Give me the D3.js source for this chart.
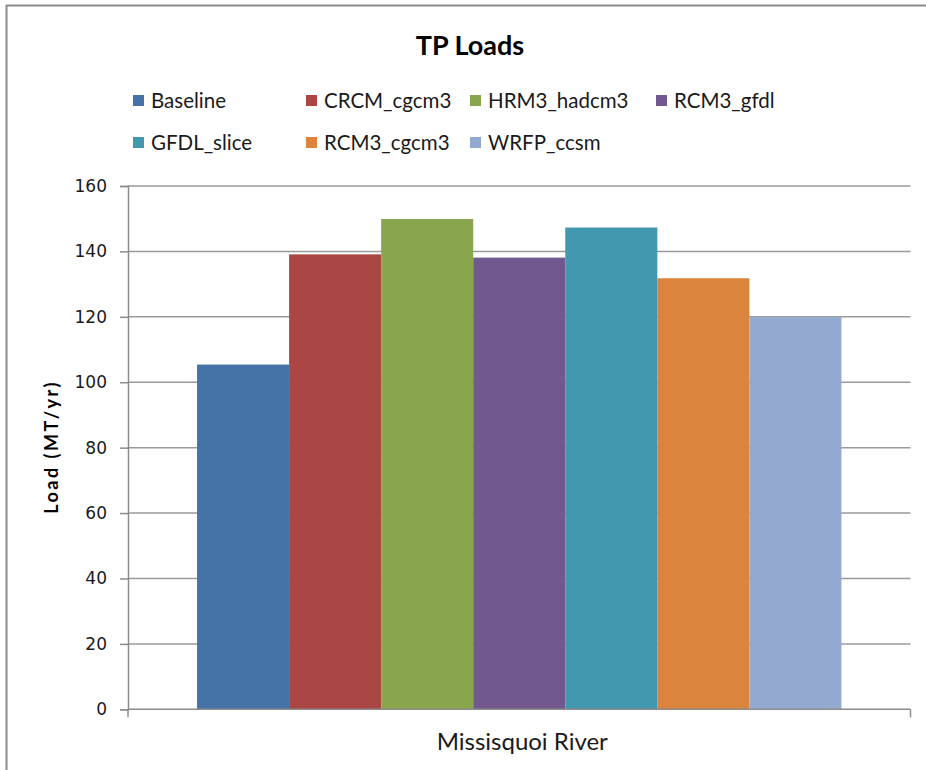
<!DOCTYPE html>
<html><head><meta charset="utf-8">
<script src="https://cdn.jsdelivr.net/npm/d3@7/dist/d3.min.js"></script>
<style>body{margin:0;background:#fff;} svg{display:block;}</style>
</head><body>
<script>
const categories = ["Missisquoi River"];
const seriesNames = ["Baseline","CRCM_cgcm3","HRM3_hadcm3","RCM3_gfdl","GFDL_slice","RCM3_cgcm3","WRFP_ccsm"];
const seriesValues = [105.4, 139.1, 149.9, 138.1, 147.3, 131.8, 119.9];
const seriesColors = ["#4572A7","#AA4643","#89A54E","#71588F","#4198AF","#DB843D","#93A9CF"];
const yTicks = [0,20,40,60,80,100,120,140,160];
const titleText = "TP Loads";
const yLabel = "Load (MT/yr)";

const W = 926, H = 770;
const svg = d3.select("body").append("svg").attr("width", W).attr("height", H);
svg.append("rect").attr("width", W).attr("height", H).attr("fill", "#fff");
// border (top and left visible)
svg.append("line").attr("x1",6.5).attr("x2",6.5).attr("y1",5).attr("y2",H).attr("stroke","#8c8c8c").attr("stroke-width",2);
svg.append("line").attr("x1",6).attr("x2",W).attr("y1",5.5).attr("y2",5.5).attr("stroke","#8c8c8c").attr("stroke-width",2);

const plot = {left:128, right:910.5, top:186, bottom:709.3};
const y = d3.scaleLinear().domain([0,160]).range([plot.bottom, plot.top]);
const x0 = d3.scaleBand().domain(categories).range([plot.left, plot.right]).paddingInner(0).paddingOuter(0);
// gap width 150% -> bars occupy 7/(7+1.5) of band
const groupW = x0.bandwidth() * 7 / 8.5;
const x1 = d3.scaleBand().domain(seriesNames).range([0, groupW]).padding(0);

// gridlines
svg.append("g").selectAll("line").data(yTicks.filter(d=>d>0)).join("line")
  .attr("x1", plot.left).attr("x2", plot.right)
  .attr("y1", d=>y(d)).attr("y2", d=>y(d))
  .attr("stroke","#9a9a9a").attr("stroke-width",1.5);

// bars
const grp = svg.append("g").selectAll("g").data(categories).join("g")
  .attr("transform", d=>`translate(${x0(d) + (x0.bandwidth()-groupW)/2},0)`);
grp.selectAll("rect").data(seriesNames.map((n,i)=>({n, v:seriesValues[i], c:seriesColors[i]}))).join("rect")
  .attr("x", d=>x1(d.n)).attr("width", x1.bandwidth())
  .attr("y", d=>y(d.v)).attr("height", d=>y(0)-y(d.v))
  .attr("fill", d=>d.c);

// y axis
const yAxis = d3.axisLeft(y).tickValues(yTicks).tickSize(8).tickPadding(6);
const ya = svg.append("g").attr("transform",`translate(${plot.left},0)`).call(yAxis);
ya.select(".domain").attr("stroke","#8c8c8c").attr("stroke-width",1.5);
ya.selectAll(".tick line").attr("stroke","#8c8c8c").attr("stroke-width",1.5);
ya.selectAll(".tick text").attr("font-family","DejaVu Sans").attr("font-size",17).attr("fill","#1a1a1a").attr("dx",-7);

// x axis
const xAxis = d3.axisBottom(x0).tickSize(0).tickFormat("");
const xa = svg.append("g").attr("transform",`translate(0,${plot.bottom})`).call(xAxis);
xa.select(".domain").remove();
xa.append("line").attr("x1",plot.left).attr("x2",plot.right).attr("stroke","#8c8c8c").attr("stroke-width",1.5);
[plot.left, plot.right].forEach(px=>xa.append("line").attr("x1",px).attr("x2",px).attr("y1",0).attr("y2",8).attr("stroke","#8c8c8c").attr("stroke-width",1.5));
xa.selectAll(".cat").data(categories).join("text").attr("class","cat")
  .attr("x", d=>x0(d)+x0.bandwidth()/2 + 3).attr("y", 41)
  .attr("text-anchor","middle").attr("font-family","Lato").attr("font-size",24).attr("fill","#1a1a1a").text(d=>d);

// title
svg.append("text").attr("x",470).attr("y",55).attr("text-anchor","middle")
  .attr("font-family","Lato").attr("font-weight","bold").attr("font-size",27).attr("fill","#000").text(titleText);

// y label
svg.append("text").attr("transform","translate(58,447) rotate(-90)").attr("text-anchor","middle")
  .attr("font-family","Lato").attr("font-weight","bold").attr("font-size",18).attr("letter-spacing","2.5px").attr("fill","#000").text(yLabel);

// legend
const legX = [133, 306, 470, 656];
const legY = [101, 143];
const leg = svg.append("g").selectAll("g").data(seriesNames).join("g")
  .attr("transform",(d,i)=>{
    const row = i < 4 ? 0 : 1; const col = i < 4 ? i : i-4;
    return `translate(${legX[col]},${legY[row]})`;
  });
leg.append("rect").attr("x",0).attr("y",-6).attr("width",11).attr("height",11).attr("fill",(d,i)=>seriesColors[i]);
leg.append("text").attr("x",18).attr("y",0).attr("dy","0.35em").attr("font-family","Lato").attr("font-size",20.5).attr("fill","#1a1a1a").text(d=>d);
</script>
</body></html>
